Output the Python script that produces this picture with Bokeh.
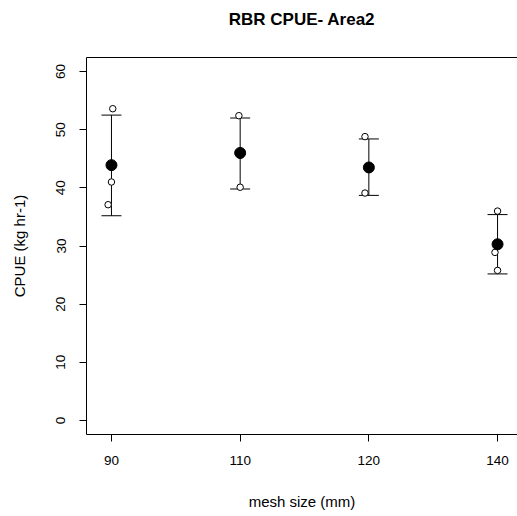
from bokeh.plotting import figure
from bokeh.models import (Range1d, FixedTicker, LinearAxis, ColumnDataSource,
                          Whisker, TeeHead)
from bokeh.embed import file_html
from bokeh.resources import INLINE

# ---- data ----
title_text = "RBR CPUE- Area2"
mesh_labels = ["90", "110", "120", "140"]
group_pos = [1, 2, 3, 4]
mean_cpue = [43.9, 46.0, 43.5, 30.3]
upper_bar = [52.5, 52.0, 48.4, 35.4]
lower_bar = [35.2, 39.8, 38.7, 25.2]

obs_group = [1, 1, 1, 2, 2, 2, 3, 3, 3, 4, 4, 4]
obs_jitter = [0.01, 0.0, -0.026, -0.01, 0.0, 0.0, -0.03, 0.0, -0.03, 0.0, -0.02, 0.0]
obs_cpue = [53.6, 41.0, 37.1, 52.4, 45.6, 40.1, 48.8, 43.2, 39.1, 36.0, 28.9, 25.8]

y_ticks = [0, 10, 20, 30, 40, 50, 60]

FONT = "Liberation Sans"

p = figure(width=517, height=516, output_backend="svg", toolbar_location=None,
           x_range=Range1d(0.806, 4.155), y_range=Range1d(-2.4, 62.4),
           x_axis_location=None, y_axis_location=None,
           min_border_left=86, min_border_right=0, min_border_top=57,
           min_border_bottom=82)
p.outline_line_color = None
p.grid.visible = False
p.background_fill_color = "white"
p.border_fill_color = "white"

def style_axis(ax):
    ax.axis_line_color = "black"
    ax.axis_line_width = 1
    ax.major_tick_line_color = "black"
    ax.major_tick_in = 0
    ax.major_tick_out = 7
    ax.minor_tick_line_color = None
    ax.major_label_text_font = FONT
    ax.major_label_text_font_size = "13.5px"
    ax.major_label_text_color = "black"
    ax.axis_label_text_font = FONT
    ax.axis_label_text_font_size = "15px"
    ax.axis_label_text_font_style = "normal"
    ax.axis_label_text_color = "black"

xa = LinearAxis(ticker=FixedTicker(ticks=group_pos),
                major_label_overrides={g: l for g, l in zip(group_pos, mesh_labels)},
                axis_label="mesh size (mm)")
style_axis(xa)
xa.major_label_standoff = 14
xa.axis_label_standoff = 25
p.add_layout(xa, "below")

ya = LinearAxis(ticker=FixedTicker(ticks=y_ticks), axis_label="CPUE (kg hr-1)")
style_axis(ya)
ya.major_label_orientation = "vertical"
ya.major_label_standoff = 14
ya.axis_label_standoff = 26
p.add_layout(ya, "left")

# top frame line; its axis label serves as the (centred) chart title
top = LinearAxis(ticker=FixedTicker(ticks=[]), axis_label=title_text)
top.axis_line_color = "black"
top.major_tick_line_color = None
top.major_tick_out = 0
top.major_tick_in = 0
top.minor_tick_line_color = None
top.major_label_text_font_size = "0px"
top.axis_label_text_font = FONT
top.axis_label_text_font_size = "17px"
top.axis_label_text_font_style = "bold"
top.axis_label_text_color = "black"
top.axis_label_standoff = 29
p.add_layout(top, "above")

bars = ColumnDataSource(dict(x=group_pos, upper=upper_bar, lower=lower_bar, m=mean_cpue))
w = Whisker(source=bars, base="x", upper="upper", lower="lower", dimension="height",
            line_color="black", line_width=1,
            upper_head=TeeHead(size=20, line_color="black", line_width=1),
            lower_head=TeeHead(size=20, line_color="black", line_width=1))
p.add_layout(w)

obs_x = [g + j for g, j in zip(obs_group, obs_jitter)]
p.scatter(obs_x, obs_cpue, size=6.5, marker="circle", fill_color="white",
          line_color="black", line_width=1)
p.scatter("x", "m", source=bars, size=11, marker="circle", fill_color="black",
          line_color="black")

open("out.html", "w").write(file_html(p, INLINE))
